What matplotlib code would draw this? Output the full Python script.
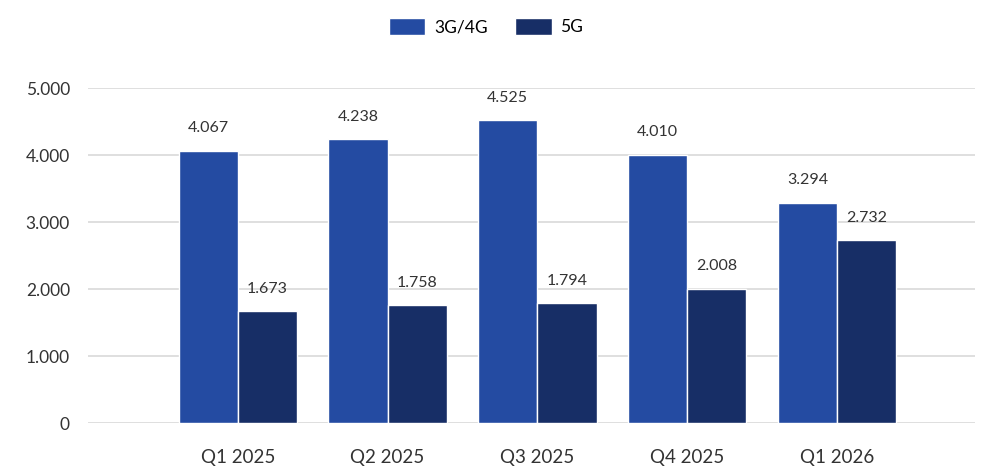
import numpy as np
import matplotlib.pyplot as plt

plt.rcParams['font.family'] = ['Lato', 'DejaVu Sans']

quarters = ['Q1 2025', 'Q2 2025', 'Q3 2025', 'Q4 2025', 'Q1 2026']
g34 = [4067, 4238, 4525, 4010, 3294]
g5 = [1673, 1758, 1794, 2008, 2732]
yticks = [0, 1000, 2000, 3000, 4000, 5000]

c34 = '#244ba2'
c5 = '#172e66'


def fmt(v):
    return f"{v:,}".replace(',', '.')


fig = plt.figure(figsize=(9.82, 4.67), dpi=100)
ax = fig.add_axes([0.0896, 0.094, 0.903, 0.717])

x = np.arange(len(quarters))
w = 0.395
b1 = ax.bar(x - w / 2, g34, w, color=c34, edgecolor='white', linewidth=1, label='3G/4G', zorder=3)
b2 = ax.bar(x + w / 2, g5, w, color=c5, edgecolor='white', linewidth=1, label='5G', zorder=3)

# etiquetas de valor acima das barras
for bars, vals in [(b1, g34), (b2, g5)]:
    for r, v in zip(bars, vals):
        ax.annotate(fmt(v), (r.get_x() + r.get_width() / 2, v), xytext=(0, 11),
                    textcoords='offset points', ha='center', va='bottom',
                    fontsize=11.5, color='#333333')

ax.set_xlim(-1.0, 4.92)
ax.set_ylim(0, 5000)
ax.set_yticks(yticks)
ax.set_yticklabels([fmt(v) for v in yticks], fontsize=12.5, color='#333333')
ax.set_xticks(x)
ax.set_xticklabels(quarters, fontsize=13.5, color='#333333')
ax.tick_params(axis='both', length=0)
ax.tick_params(axis='x', pad=19)
ax.tick_params(axis='y', pad=13)

ax.grid(axis='y', color='#d9d9d9', linewidth=1.2, zorder=0)
for s in ax.spines.values():
    s.set_visible(False)

fig.legend(loc='upper center', bbox_to_anchor=(0.495, 0.995), ncol=2, frameon=False,
           fontsize=12.5, handlelength=2.1, handleheight=1.15, handletextpad=0.5,
           columnspacing=1.6)

fig.savefig('out.png', dpi=100)
